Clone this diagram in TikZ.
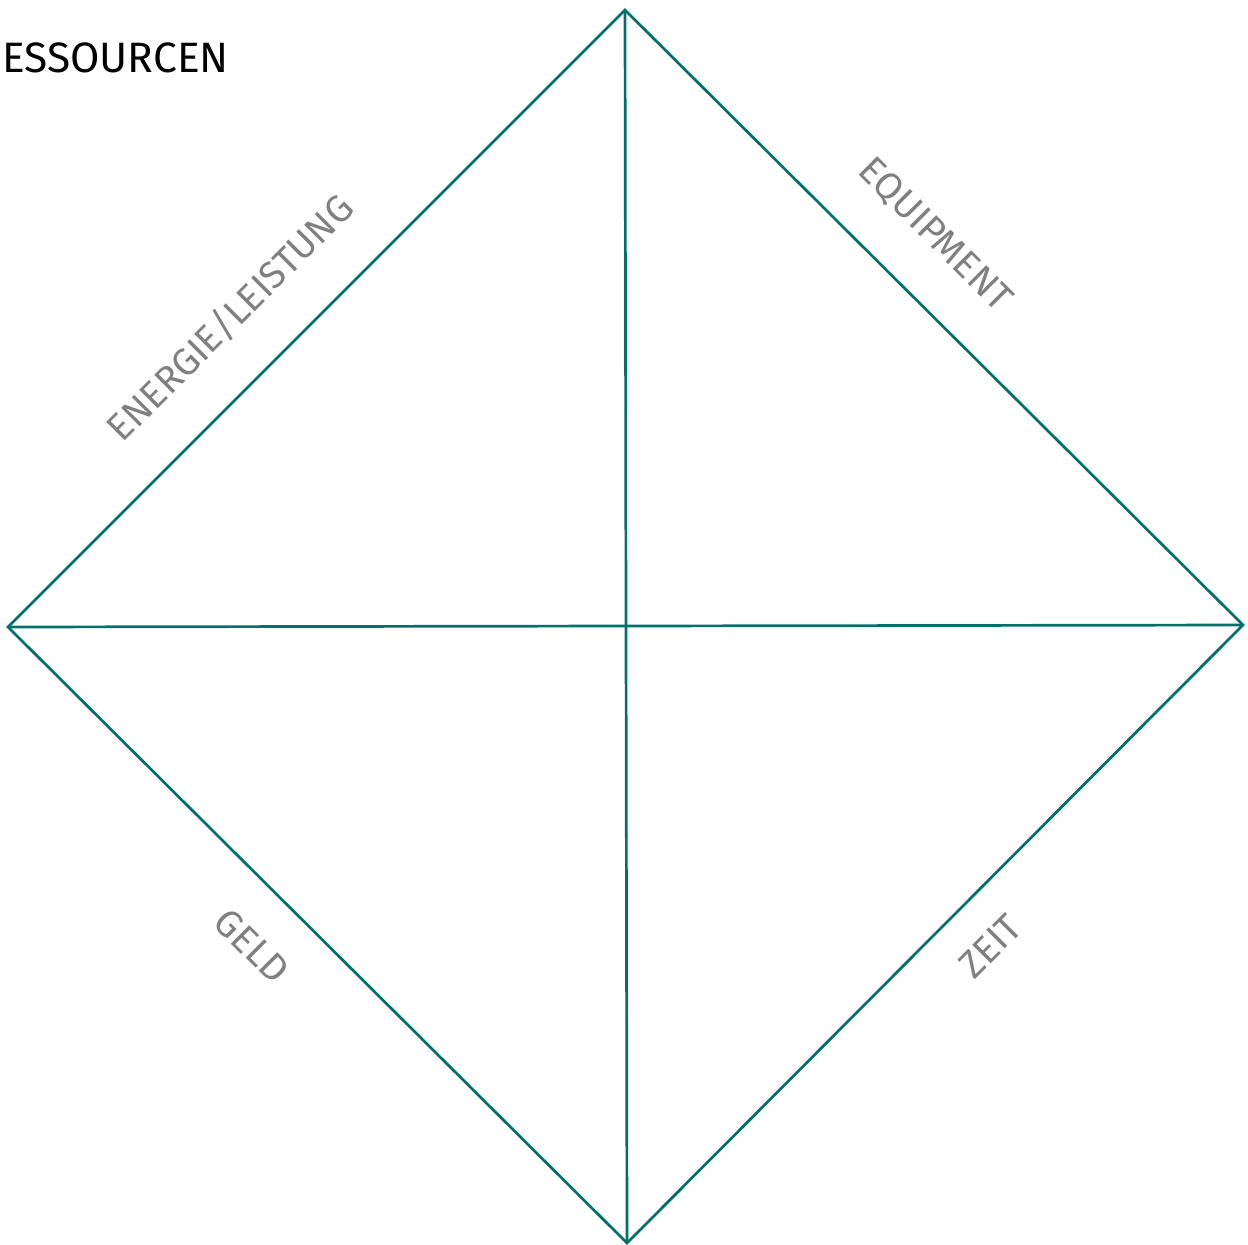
\documentclass[tikz,border=0pt]{standalone}
\usepackage{fontspec}
\setmainfont{Fira Sans}
\definecolor{edge}{HTML}{00706A}
\definecolor{lab}{HTML}{808080}
\begin{document}
\begin{tikzpicture}[x=1pt,y=-1pt,
  edgeline/.style={draw=edge,line width=2.7pt},
  sidelabel/.style={text=lab,font=\fontsize{38}{42}\selectfont,inner sep=0pt,anchor=center},
  titlelabel/.style={text=black,font=\fontsize{42.5}{48}\selectfont,inner sep=0pt,anchor=base west}]
\useasboundingbox (0,0) rectangle (1248,1245);
\coordinate (T) at (625,10);
\coordinate (L) at (8,627);
\coordinate (R) at (1243,625);
\coordinate (B) at (627,1243);
\draw[edgeline,line join=miter] (T) -- (R) -- (B) -- (L) -- cycle;
\draw[edgeline] (T) -- (B);
\draw[edgeline] (L) -- (R);
\node[titlelabel] (title) at (2,72) {ESSOURCEN};
\node[sidelabel,rotate=45] (energie) at (230,318) {ENERGIE/LEISTUNG};
\node[sidelabel,rotate=-45] (equip) at (935,235) {EQUIPMENT};
\node[sidelabel,rotate=-45] (geld) at (252,946) {GELD};
\node[sidelabel,rotate=45] (zeit) at (990,946) {ZEIT};
\end{tikzpicture}
\end{document}
